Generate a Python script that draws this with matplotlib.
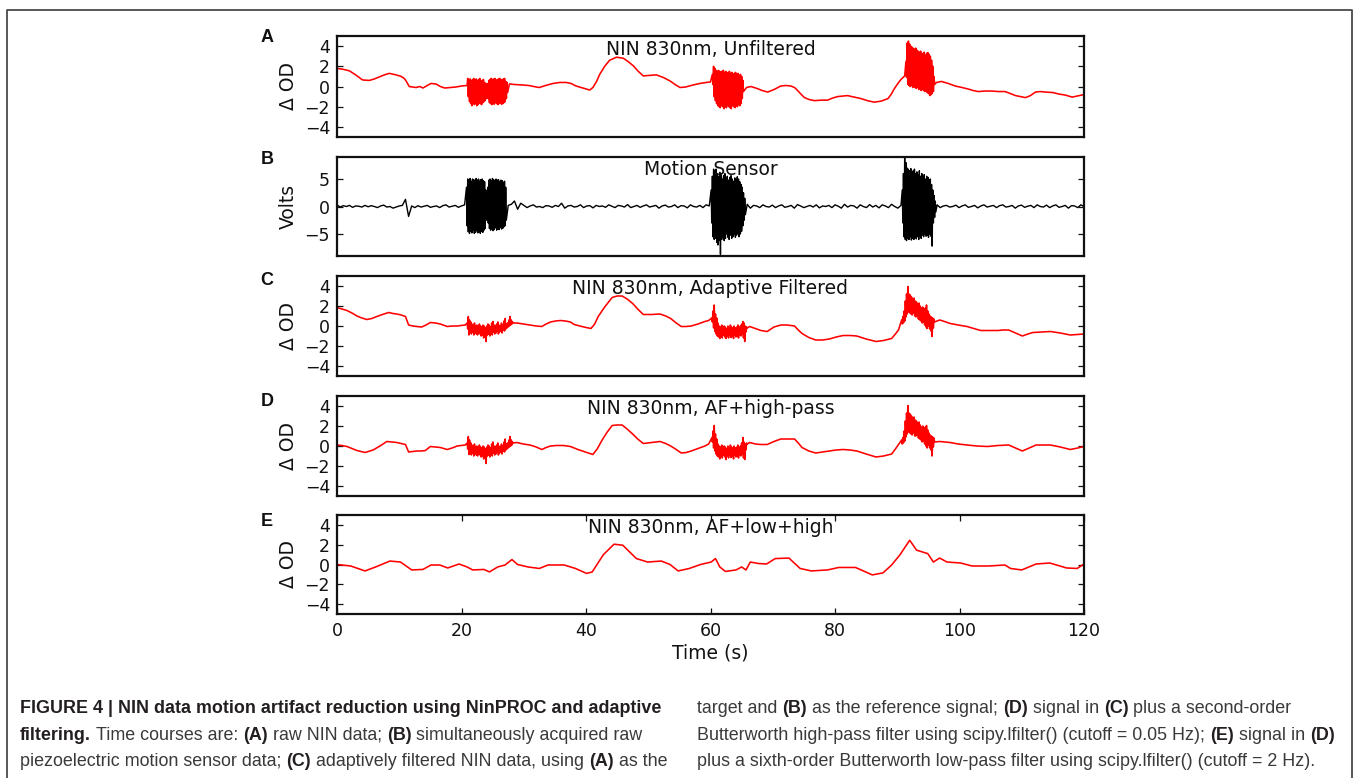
import numpy as np
import matplotlib
matplotlib.use('Agg')
import matplotlib.pyplot as plt
from matplotlib.lines import Line2D
from matplotlib import font_manager

# ---------------------------------------------------------------- data
x_ticks = [0, 20, 40, 60, 80, 100, 120]
od_ticks = [-4, -2, 0, 2, 4]
volt_ticks = [-5, 0, 5]

# Panel A : raw NIN 830nm
a_t1 = [0, 1, 2, 3, 4.1, 5.2, 6, 6.8, 7.6, 8.4, 9.5, 10.3, 10.8, 11.1, 11.6, 12.2, 12.7, 13.3,
        13.8, 14.5, 15.1, 15.9, 16.6, 17.3, 18.2, 19.1, 20.0, 20.9]
a_v1 = [1.8, 1.7, 1.55, 1.15, 0.65, 0.6, 0.75, 0.95, 1.15, 1.3, 1.15, 1.0, 0.8, 0.55, 0.0, -0.05,
        -0.1, 0.0, -0.15, 0.1, 0.3, 0.25, 0.0, -0.15, -0.1, -0.05, 0.05, 0.1]
a_b1_up = [0.8, 0.7, 0.75, 0.6, 0.7, 0.8, 0.65, 0.75, 0.6, 0.7, 0.8, 0.5, 0.6, 0.7, 0.4, 0.3]
a_b1_lo = [-1.0, -1.5, -1.7, -1.9, -1.6, -1.8, -1.7, -1.9, -1.8, -1.6, -1.7, -1.8, -1.6, -1.5, -1.4, -1.2]
a_b2_up = [0.3, 0.6, 0.7, 0.8, 0.7, 0.75, 0.8, 0.6, 0.7, 0.75, 0.8, 0.7, 0.6, 0.75, 0.8, 0.5, 0.4]
a_b2_lo = [-1.2, -1.6, -1.7, -1.8, -1.7, -1.75, -1.6, -1.7, -1.8, -1.7, -1.6, -1.75, -1.7, -1.6, -1.5, -1.2, -0.6]
a_t2 = [27.7, 28.5, 29.8, 30.8, 31.6, 32.5, 33.5, 34.7, 35.8, 36.8, 37.6, 38.4, 39.5, 40.6, 41.1,
        41.7, 42.2, 43.0, 43.8, 44.9, 46.0, 46.8, 47.6, 48.4, 49.2, 50.2, 51.3, 52.4, 53.5, 54.3,
        55.1, 56.0, 57.2, 58.3, 59.3, 60.0]
a_v2 = [0.25, 0.2, 0.15, 0.1, 0.0, -0.1, 0.1, 0.3, 0.4, 0.4, 0.3, 0.05, -0.15, -0.35, -0.1, 0.5,
        1.2, 2.0, 2.6, 2.9, 2.8, 2.45, 2.05, 1.5, 1.05, 1.1, 1.15, 0.9, 0.55, 0.2, -0.1, -0.05,
        0.15, 0.3, 0.4, 0.45]
a_b3_up = [1.2, 2.0, 1.8, 1.6, 1.5, 1.6, 1.5, 1.4, 1.5, 1.6, 1.4, 1.5, 1.3, 1.4, 1.5, 1.3, 1.4,
           1.2, 1.3, 1.4, 1.2, 1.3, 1.1, 1.2, 1.0, 0.6]
a_b3_lo = [0.2, -1.0, -1.4, -1.7, -1.9, -2.0, -2.1, -1.9, -2.0, -2.2, -2.0, -2.1, -1.9, -2.0, -2.1,
           -2.2, -1.9, -2.0, -2.1, -1.9, -2.0, -1.8, -1.9, -1.7, -1.2, -0.5]
a_t3 = [65.8, 66.5, 67.5, 68.3, 69.2, 70.2, 71.3, 72.1, 72.9, 73.5, 74.0, 74.6, 75.1, 75.9, 76.7,
        77.8, 78.8, 79.6, 80.4, 81.2, 82.0, 83.1, 84.2, 85.2, 86.3, 87.4, 88.5, 89.0, 89.5, 90.1,
        90.6, 91.2]
a_v3 = [-0.1, 0.0, -0.2, -0.4, -0.55, -0.3, 0.05, 0.1, 0.05, -0.1, -0.4, -0.8, -1.1, -1.3, -1.4,
        -1.35, -1.35, -1.15, -1.0, -0.95, -0.9, -1.05, -1.2, -1.4, -1.55, -1.45, -1.2, -0.8, -0.25,
        0.3, 0.7, 1.05]
a_b4_up = [2.5, 4.3, 4.5, 4.2, 4.0, 3.9, 3.8, 3.7, 3.8, 3.6, 3.5, 3.4, 3.5, 3.3, 3.2, 3.4, 3.1,
           3.3, 3.35, 3.2, 3.0, 2.6, 2.0, 1.0]
a_b4_lo = [0.9, 0.2, 0.1, 0.0, 0.1, -0.1, 0.0, -0.1, -0.2, -0.1, -0.3, -0.2, -0.4, -0.3, -0.4,
           -0.5, -0.4, -0.6, -0.7, -0.9, -0.8, -0.7, -0.5, 0.2]
a_t4 = [96.3, 97.1, 98.2, 99.3, 100.4, 101.4, 102.2, 103.0, 104.1, 105.2, 106.3, 107.3, 108.2,
        109.0, 109.8, 110.6, 111.4, 112.2, 113.0, 113.8, 115.0, 116.0, 117.0, 118.1, 119.2, 120.0]
a_v4 = [0.4, 0.5, 0.3, 0.05, -0.1, -0.25, -0.4, -0.5, -0.45, -0.45, -0.5, -0.5, -0.7, -0.9, -1.0,
        -1.1, -0.9, -0.55, -0.5, -0.55, -0.6, -0.75, -0.85, -1.05, -0.9, -0.8]

# Panel B : motion sensor (volts)
b_n1 = [0.3, -0.1, 0.15, 0.0, 0.2, -0.15, 0.1, 0.05, -0.1, 0.2, -0.05, 0.15, 0.0, -0.2, 0.1, 0.25,
        -0.1, 0.0, -0.3, -0.1, 0.1, 0.2, 1.3, -1.8, 0.1, -0.2, 0.15, -0.1, 0.05, 0.2, -0.15, 0.0,
        0.1, -0.2, 0.15, 0.3, -0.1, 0.05, 0.2, -0.15, 0.1, 0.3]
b_b1_up = [3.5, 5.0, 4.8, 5.1, 4.6, 5.0, 4.9, 4.7, 5.1, 4.8, 5.0, 4.6, 4.9, 5.0, 4.7, 4.5, 3.0]
b_b1_lo = [-3.5, -4.6, -4.9, -4.5, -4.8, -4.3, -4.9, -4.7, -4.4, -4.8, -4.6, -4.9, -4.5, -4.7,
           -4.3, -4.0, -2.5]
b_b2_up = [3.5, 4.8, 5.0, 4.7, 5.1, 4.9, 4.6, 5.0, 4.8, 4.9, 4.5, 4.8, 4.7, 4.4, 4.6, 3.5]
b_b2_lo = [-3.0, -4.0, -4.3, -4.1, -4.4, -4.2, -3.9, -4.3, -4.1, -4.2, -3.8, -4.1, -4.0, -3.7,
           -3.5, -2.5]
b_n2 = [0.2, 0.4, 1.0, -0.5, 0.6, 0.2, -0.2, 0.1, 0.3, -0.1, 0.0, -0.2, 0.15, 0.1, -0.15, 0.2,
        0.0, 0.6, -0.3, 0.1, 0.2, -0.1, 0.0, 0.3, -0.2, 0.1, 0.15, -0.25, 0.2, 0.0, 0.1, -0.15,
        0.3, 0.05, -0.2, 0.2, 0.1, -0.1, 0.35, -0.2, 0.0, 0.2, -0.15, 0.1, 0.3, -0.1, 0.05, 0.2,
        -0.3, 0.1, 0.25, -0.1, 0.0, 0.3, -0.2, 0.15, 0.1, -0.25, 0.3, 0.0, -0.1, 0.2, -0.2, 0.3, 0.1]
b_b3_up = [3.0, 5.5, 6.8, 6.5, 6.8, 6.0, 5.5, 6.2, 5.8, 5.0, 5.6, 6.0, 5.2, 5.5, 4.8, 5.3, 5.6,
           5.0, 4.6, 5.2, 4.8, 5.4, 5.0, 4.5, 4.0, 3.5, 2.5, 1.5]
b_b3_lo = [-3.0, -5.5, -6.0, -5.8, -6.5, -7.0, -6.2, -8.7, -6.0, -5.5, -6.2, -5.8, -5.0, -5.6,
           -6.0, -5.2, -5.8, -5.5, -5.0, -5.6, -5.2, -4.8, -5.5, -5.0, -4.5, -3.5, -2.5, -1.5]
b_n3 = [0.4, -0.3, 0.2, 0.1, -0.2, 0.3, 0.0, -0.1, 0.25, -0.2, 0.1, 0.3, -0.15, 0.0, 0.2, -0.3,
        0.35, 0.1, -0.2, 0.0, 0.2, -0.1, 0.3, -0.25, 0.1, 0.0, 0.2, -0.2, 0.3, 0.05, -0.3, 0.4,
        -0.1, 0.2, 0.1, -0.3, 0.3, 0.0, -0.2, 0.35, -0.1, 0.2, -0.25, 0.3, 0.1, -0.2, 0.4, 0.0,
        -0.3, 0.2]
b_b4_up = [3.0, 6.0, 9.0, 8.0, 7.0, 6.8, 6.5, 6.9, 6.2, 6.5, 6.8, 6.0, 6.3, 5.8, 6.5, 5.5, 6.0,
           5.3, 5.8, 5.0, 5.5, 5.3, 4.8, 5.0, 4.0, 3.0, 2.0, 1.0]
b_b4_lo = [-3.0, -5.5, -6.0, -6.2, -5.8, -6.0, -5.5, -6.1, -5.8, -6.0, -5.6, -5.9, -5.5, -6.0,
           -5.4, -5.8, -5.2, -5.5, -5.0, -5.4, -5.2, -5.6, -5.0, -5.4, -7.2, -3.0, -2.0, -1.0]
b_n4 = [0.3, -0.2, 0.1, 0.2, -0.1, 0.0, 0.25, -0.2, 0.1, 0.3, -0.15, 0.0, 0.2, -0.25, 0.1, 0.3,
        -0.1, 0.05, 0.2, -0.2, 0.15, 0.3, -0.1, 0.0, 0.2, -0.3, 0.1, 0.25, -0.15, 0.05, 0.2, -0.2,
        0.3, 0.0, -0.1, 0.25, -0.2, 0.1, 0.3, -0.15, 0.0, 0.2, -0.3, 0.15, 0.1, -0.2, 0.3, 0.0]

# Panel C : adaptive filtered
c_t1 = [0, 0.8, 1.6, 2.4, 3.2, 4.0, 4.8, 5.6, 6.4, 7.3, 8.3, 9.0, 9.6, 10.3, 11.0, 11.5, 12.2,
        12.8, 13.6, 14.3, 15.0, 15.8, 16.6, 17.7, 18.5, 19.3, 20.0, 20.6]
c_v1 = [1.85, 1.7, 1.55, 1.3, 1.0, 0.8, 0.65, 0.75, 0.95, 1.15, 1.35, 1.25, 1.2, 1.1, 0.95, 0.1,
        0.0, -0.05, -0.1, 0.1, 0.35, 0.3, 0.2, -0.05, 0.0, 0.0, 0.05, 0.1]
c_b1_up = [0.3, 0.95, 0.6, 0.4, 0.2, 0.1, 0.3, 0.0, 0.1, -0.1, 0.2, 0.0, -0.1, 0.1, 0.0, -0.2, 0.0,
           0.2, 0.1, -0.1, 0.3, 0.45, 0.1, 0.0, 0.2, 0.4, 0.1, 0.0, 0.3, 0.1, 0.5, 0.75, 0.2, 0.3,
           0.6, 0.95, 0.6, 0.4]
c_b1_lo = [-0.3, -0.9, -0.7, -0.8, -0.6, -0.9, -0.7, -0.8, -0.9, -0.7, -0.8, -1.0, -0.9, -1.2,
           -1.0, -1.55, -0.9, -0.8, -1.0, -0.7, -0.9, -0.6, -0.8, -0.7, -0.5, -0.8, -0.6, -0.5,
           -0.7, -0.4, -0.5, -0.3, -0.2, -0.1, 0.0, 0.1, 0.2, 0.3]
c_t2 = [28.9, 29.9, 31.0, 32.0, 32.9, 33.6, 34.3, 35.1, 35.9, 36.7, 37.5, 38.1, 39.0, 40.0, 40.8,
        41.4, 41.96, 43.0, 44.2, 45.0, 45.8, 46.6, 47.5, 48.3, 49.2, 50.5, 51.9, 52.8, 53.6, 54.5,
        55.3, 56.1, 56.9, 58.0, 59.1, 59.7]
c_v2 = [0.3, 0.2, 0.1, 0.0, -0.05, 0.2, 0.4, 0.5, 0.55, 0.5, 0.4, 0.15, 0.0, -0.15, -0.25, 0.2,
        0.95, 1.9, 2.85, 3.0, 3.0, 2.7, 2.25, 1.7, 1.15, 1.15, 1.2, 1.0, 0.75, 0.3, -0.05, -0.05,
        0.0, 0.2, 0.45, 0.55]
c_b2_up = [0.8, 1.5, 2.1, 1.2, 0.8, 0.3, 0.0, -0.1, 0.1, -0.2, 0.0, -0.1, -0.3, 0.0, -0.2, 0.1,
           -0.1, -0.3, 0.0, -0.2, -0.1, 0.1, -0.2, 0.0, 0.2, 0.45, 0.3, 0.0, -0.1]
c_b2_lo = [0.4, -0.2, -0.55, -0.8, -1.0, -1.1, -1.25, -1.0, -1.2, -0.9, -1.1, -1.25, -1.0, -1.2,
           -0.9, -1.15, -1.0, -1.25, -0.9, -1.1, -1.0, -1.2, -0.9, -1.0, -0.8, -1.2, -1.55, -0.6, -0.2]
c_t3 = [66.3, 67.2, 68.1, 69.1, 70.2, 71.3, 72.3, 73.5, 74.1, 74.7, 75.8, 76.9, 78.0, 79.1, 80.2,
        81.3, 82.4, 83.5, 85.0, 86.6, 87.8, 89.1, 89.7, 90.2]
c_v3 = [-0.05, -0.25, -0.45, -0.55, -0.1, 0.1, 0.1, 0.0, -0.4, -0.75, -1.15, -1.4, -1.4, -1.3,
        -1.1, -0.95, -0.95, -1.0, -1.3, -1.55, -1.45, -1.25, -0.8, -0.4]
c_b3_up = [0.6, 0.95, 1.5, 2.5, 3.2, 3.95, 3.2, 3.1, 2.9, 2.7, 2.8, 2.5, 2.4, 2.2, 2.3, 2.0, 1.8,
           1.9, 1.6, 1.8, 2.1, 1.5, 1.2, 1.0, 0.9, 0.8, 0.7]
c_b3_lo = [0.2, 0.3, 0.5, 0.9, 1.2, 1.4, 1.3, 1.2, 1.1, 1.3, 1.0, 0.9, 1.0, 0.7, 0.6, 0.5, 0.3,
           0.4, 0.1, -0.1, -0.25, 0.0, -0.3, -0.5, -1.05, -0.2, 0.4]
c_t4 = [96.8, 97.6, 98.5, 99.8, 101.2, 102.3, 103.4, 104.8, 106.2, 107.0, 107.9, 109.0, 110.1,
        111.0, 111.8, 113.2, 114.6, 116.2, 117.8, 119.0, 120.0]
c_v4 = [0.6, 0.45, 0.25, 0.1, -0.05, -0.25, -0.45, -0.45, -0.45, -0.4, -0.4, -0.7, -1.0, -0.8,
        -0.65, -0.6, -0.55, -0.7, -0.9, -0.85, -0.8]

# Panel D : AF + high-pass
d_t1 = [0, 0.8, 1.6, 2.4, 3.2, 4.5, 5.8, 6.9, 8.0, 8.8, 9.6, 10.3, 11.0, 11.5, 12.2, 12.8, 13.5,
        14.2, 15.0, 15.8, 16.6, 17.7, 18.5, 19.3, 20.0, 20.6]
d_v1 = [0.1, 0.05, -0.05, -0.25, -0.45, -0.65, -0.4, 0.0, 0.45, 0.4, 0.35, 0.25, 0.15, -0.6,
        -0.55, -0.5, -0.5, -0.45, -0.05, -0.1, -0.15, -0.35, -0.2, 0.0, 0.05, 0.1]
d_b1_up = [0.3, 0.95, 0.6, 0.3, 0.1, 0.0, 0.2, -0.1, 0.0, -0.2, 0.1, -0.1, -0.2, 0.0, -0.1, -0.3,
           -0.1, 0.1, 0.0, -0.2, 0.2, 0.4, 0.0, -0.1, 0.1, 0.3, 0.0, -0.1, 0.2, 0.0, 0.4, 0.7, 0.2,
           0.3, 0.6, 0.95, 0.6, 0.4]
d_b1_lo = [-0.3, -0.85, -0.8, -0.9, -0.7, -1.0, -0.8, -0.9, -1.0, -0.8, -0.9, -1.1, -1.0, -1.3,
           -1.1, -1.75, -1.0, -0.9, -1.1, -0.8, -1.0, -0.7, -0.9, -0.8, -0.6, -0.9, -0.7, -0.6,
           -0.8, -0.5, -0.6, -0.4, -0.3, -0.2, -0.1, 0.0, 0.1, 0.3]
d_t2 = [28.9, 29.9, 31.0, 32.0, 32.9, 33.6, 34.3, 35.3, 36.4, 37.5, 38.7, 39.9, 41.1, 41.8, 42.5,
        43.3, 44.2, 45.0, 45.8, 46.6, 47.5, 48.3, 49.2, 50.5, 51.9, 52.8, 53.6, 54.5, 55.3, 56.1,
        56.9, 58.0, 59.1, 59.7]
d_v2 = [0.35, 0.2, 0.1, -0.1, -0.35, -0.15, 0.0, 0.05, 0.05, -0.05, -0.35, -0.6, -0.85, -0.3, 0.5,
        1.3, 2.05, 2.1, 2.1, 1.7, 1.2, 0.7, 0.25, 0.35, 0.45, 0.25, 0.0, -0.35, -0.7, -0.65, -0.5,
        -0.25, 0.0, 0.2]
d_b2_up = [0.8, 1.5, 2.05, 1.2, 0.7, 0.2, 0.0, -0.1, 0.1, -0.2, 0.0, -0.1, -0.3, 0.0, -0.2, 0.1,
           -0.1, -0.3, 0.0, -0.2, -0.1, 0.1, -0.2, 0.0, 0.3, 0.85, 0.4, 0.2, 0.3]
d_b2_lo = [0.4, -0.2, -0.5, -0.8, -1.0, -1.1, -1.3, -1.0, -1.2, -0.9, -1.1, -1.35, -1.0, -1.2,
           -0.9, -1.15, -1.0, -1.3, -0.9, -1.1, -1.0, -1.2, -0.9, -1.0, -0.8, -1.2, -1.35, -0.4, 0.2]
d_t3 = [66.3, 67.2, 68.1, 69.1, 70.2, 71.3, 72.3, 73.5, 74.1, 74.7, 75.8, 76.9, 78.0, 79.1, 80.2,
        81.3, 82.4, 83.5, 85.0, 86.6, 87.8, 89.1, 89.7, 90.2]
d_v3 = [0.35, 0.2, 0.15, 0.15, 0.45, 0.7, 0.7, 0.7, 0.3, -0.15, -0.5, -0.7, -0.6, -0.5, -0.4,
        -0.35, -0.4, -0.5, -0.8, -1.1, -1.0, -0.8, -0.3, 0.15]
d_b3_up = [0.6, 0.85, 1.5, 2.5, 3.3, 4.05, 3.3, 3.2, 3.0, 2.8, 2.9, 2.6, 2.5, 2.3, 2.4, 2.1, 1.9,
           2.0, 1.7, 1.9, 2.05, 1.6, 1.3, 1.1, 1.0, 0.9, 0.8]
d_b3_lo = [0.2, 0.3, 0.5, 0.9, 1.2, 1.4, 1.3, 1.2, 1.1, 1.3, 1.0, 1.0, 1.1, 0.8, 0.7, 0.6, 0.4,
           0.5, 0.2, 0.0, -0.2, 0.1, -0.2, -0.4, -1.0, -0.1, 0.4]
d_t4 = [96.8, 97.6, 98.5, 99.8, 101.2, 102.8, 104.5, 106.2, 107.9, 109.0, 110.1, 111.2, 112.3,
        113.5, 114.6, 116.2, 117.8, 119.0, 120.0]
d_v4 = [0.45, 0.4, 0.35, 0.2, 0.1, 0.0, -0.05, 0.05, 0.1, -0.2, -0.5, -0.2, 0.1, 0.1, 0.1, -0.1,
        -0.35, -0.2, -0.05]

# Panel E : AF + low + high
e_t = [0, 2.2, 4.5, 6.2, 8.5, 10.2, 11.1, 12.0, 13.8, 15.1, 16.5, 17.8, 19.6, 20.9, 21.8, 23.6,
       24.5, 25.8, 27.0, 28.1, 29.0, 30.7, 32.5, 33.9, 36.5, 38.3, 40.1, 41.0, 42.8, 44.5, 45.9,
       48.1, 49.9, 52.1, 53.5, 54.8, 56.6, 58.4, 60.1, 60.8, 61.5, 62.4, 64.1, 65.0, 65.7, 66.4,
       67.7, 69.0, 70.4, 72.6, 74.4, 76.2, 78.8, 80.6, 83.3, 86.0, 87.7, 89.1, 90.4, 92.0, 93.1,
       94.9, 95.8, 96.8, 98.0, 100.2, 102.0, 104.7, 107.3, 108.2, 110.0, 112.3, 114.5, 117.2,
       118.9, 120.0]
e_v = [0.0, -0.15, -0.65, -0.25, 0.35, 0.25, -0.15, -0.55, -0.5, -0.05, -0.05, -0.35, 0.05, -0.25,
       -0.55, -0.5, -0.75, -0.25, -0.05, 0.5, 0.0, -0.25, -0.4, -0.05, -0.05, -0.4, -0.9, -0.75,
       1.0, 2.05, 1.95, 0.6, 0.25, 0.35, 0.0, -0.65, -0.4, 0.0, 0.25, 0.6, -0.25, -0.7, -0.55,
       -0.25, -0.55, 0.25, 0.1, 0.05, 0.6, 0.65, -0.4, -0.65, -0.55, -0.3, -0.3, -1.05, -0.85,
       -0.05, 0.95, 2.45, 1.45, 1.1, 0.25, 0.65, 0.25, 0.15, -0.15, -0.15, -0.05, -0.4, -0.55,
       0.05, 0.15, -0.35, -0.4, 0.05]

titles = ['NIN 830nm, Unfiltered', 'Motion Sensor', 'NIN 830nm, Adaptive Filtered',
          'NIN 830nm, AF+high-pass', 'NIN 830nm, AF+low+high']
panel_letters = ['A', 'B', 'C', 'D', 'E']
ylabels = ['\u0394 OD', 'Volts', '\u0394 OD', '\u0394 OD', '\u0394 OD']


def build(pieces):
    ts, vs = [], []
    for p in pieces:
        if p[0] == 'k':
            ts.extend(p[1]); vs.extend(p[2])
        elif p[0] == 'n':
            ts.extend(np.linspace(p[1], p[2], len(p[3]))); vs.extend(p[3])
        elif p[0] == 'b':
            t0, t1, up, lo = p[1:]
            n = min(len(up), len(lo))
            inter = []
            for u, l in zip(up[:n], lo[:n]):
                inter += [u, l]
            ts.extend(np.linspace(t0, t1, 2 * n)); vs.extend(inter)
    return np.array(ts, float), np.array(vs, float)


series = [
    build([('k', a_t1, a_v1), ('b', 21.0, 24.0, a_b1_up, a_b1_lo), ('b', 24.2, 27.4, a_b2_up, a_b2_lo),
           ('k', a_t2, a_v2), ('b', 60.3, 65.3, a_b3_up, a_b3_lo), ('k', a_t3, a_v3),
           ('b', 91.4, 96.0, a_b4_up, a_b4_lo), ('k', a_t4, a_v4)]),
    build([('n', 0.0, 20.5, b_n1), ('b', 20.8, 24.0, b_b1_up, b_b1_lo), ('b', 24.2, 27.2, b_b2_up, b_b2_lo),
           ('n', 27.5, 59.8, b_n2), ('b', 60.1, 65.6, b_b3_up, b_b3_lo), ('n', 65.9, 90.6, b_n3),
           ('b', 90.8, 96.2, b_b4_up, b_b4_lo), ('n', 96.4, 120.0, b_n4)]),
    build([('k', c_t1, c_v1), ('b', 20.9, 28.3, c_b1_up, c_b1_lo), ('k', c_t2, c_v2),
           ('b', 60.2, 65.9, c_b2_up, c_b2_lo), ('k', c_t3, c_v3), ('b', 90.7, 96.0, c_b3_up, c_b3_lo),
           ('k', c_t4, c_v4)]),
    build([('k', d_t1, d_v1), ('b', 20.9, 28.3, d_b1_up, d_b1_lo), ('k', d_t2, d_v2),
           ('b', 60.2, 65.9, d_b2_up, d_b2_lo), ('k', d_t3, d_v3), ('b', 90.7, 96.0, d_b3_up, d_b3_lo),
           ('k', d_t4, d_v4)]),
    build([('k', e_t, e_v)]),
]
colors = ['#ff0000', '#000000', '#ff0000', '#ff0000', '#ff0000']
lws = [1.15, 1.0, 1.15, 1.15, 1.15]

# ---------------------------------------------------------------- layout
W, H = 1356, 778
fig = plt.figure(figsize=(W / 100, H / 100), dpi=100)
fig.patch.set_facecolor('white')

axes_px = [(337, 36, 1084, 137), (337, 157, 1084, 256), (337, 276, 1084, 376),
           (337, 396, 1084, 496), (337, 515, 1084, 614)]
letter_y = [37, 159, 281, 401, 521]

for i, (l, t, r, b) in enumerate(axes_px):
    ax = fig.add_axes([l / W, 1 - b / H, (r - l) / W, (b - t) / H])
    tt, vv = series[i]
    ax.plot(tt, vv, color=colors[i], lw=lws[i], solid_joinstyle='round')
    ax.set_xlim(0, 120)
    if i == 1:
        ax.set_ylim(-9, 9)
        ax.set_yticks(volt_ticks)
    else:
        ax.set_ylim(-5, 5)
        ax.set_yticks(od_ticks)
    ax.set_yticklabels([('\u2212' + str(abs(v))) if v < 0 else str(v) for v in ax.get_yticks().astype(int)])
    for sp in ax.spines.values():
        sp.set_linewidth(1.6)
        sp.set_color('#111111')
    ax.tick_params(axis='y', which='both', direction='in', left=True, right=True,
                   length=4.5, width=0.9, labelsize=12.5, pad=5, colors='#111111')
    if i == 4:
        ax.set_xticks(x_ticks)
        ax.tick_params(axis='x', direction='in', top=True, bottom=True, length=4.5,
                       width=0.9, labelsize=12.5, pad=6, colors='#111111')
        ax.set_xlabel('Time (s)', fontsize=13.5, labelpad=2, color='#111111')
    else:
        ax.set_xticks([])
    ax.text(0.5, 0.815, titles[i], transform=ax.transAxes, ha='center', va='baseline',
            fontsize=13.5, color='#111111')
    fig.text(288 / W, 1 - ((t + b) / 2) / H, ylabels[i], rotation=90, ha='center',
             va='center', fontsize=13.5, color='#111111')
    fig.text(267 / W, 1 - letter_y[i] / H, panel_letters[i], ha='center', va='center',
             fontsize=13, fontweight='bold', family=['Liberation Sans', 'DejaVu Sans'],
             color='#111111')

# figure frame
fx = [7 / W, 7 / W, 1352 / W, 1352 / W]
fy = [-0.05, 1 - 9.5 / H, 1 - 9.5 / H, -0.05]
fig.add_artist(Line2D(fx, fy, transform=fig.transFigure, color='#4a4a4a', lw=1.3))

# ---------------------------------------------------------------- caption
avail = {f.name for f in font_manager.fontManager.ttflist}
cap_family = ['Liberation Sans Narrow'] if 'Liberation Sans Narrow' in avail else ['Liberation Sans']

caption_lines = [
    (20, 713, [("FIGURE 4 | NIN data motion artifact reduction using NinPROC and adaptive", True)]),
    (20, 740, [("filtering.", True), (" Time courses are: ", False), ("(A)", True),
               (" raw NIN data; ", False), ("(B)", True), (" simultaneously acquired raw", False)]),
    (20, 766, [("piezoelectric motion sensor data; ", False), ("(C)", True),
               (" adaptively filtered NIN data, using ", False), ("(A)", True), (" as the", False)]),
    (697, 713, [("target and ", False), ("(B)", True), (" as the reference signal; ", False),
                ("(D)", True), (" signal in ", False), ("(C)", True), (" plus a second-order", False)]),
    (697, 740, [("Butterworth high-pass filter using scipy.lfilter() (cutoff = 0.05 Hz); ", False),
                ("(E)", True), (" signal in ", False), ("(D)", True)]),
    (697, 766, [("plus a sixth-order Butterworth low-pass filter using scipy.lfilter() (cutoff = 2 Hz).", False)]),
]

renderer = fig.canvas.get_renderer()


def text_width(s, bold, size):
    tx = fig.text(0, 0, s, fontsize=size, fontweight='bold' if bold else 'normal', family=cap_family)
    w = tx.get_window_extent(renderer).width
    tx.remove()
    return w


# fit size so that first line spans ~640 px
cap_size = 11.0
w0 = text_width(caption_lines[0][2][0][0], True, cap_size)
cap_size = cap_size * 640.0 / w0

sp_w = {b: text_width('a a', b, cap_size) - text_width('aa', b, cap_size) for b in (True, False)}

for x0, yb, segs in caption_lines:
    x = x0
    for s, bold in segs:
        lead = len(s) - len(s.lstrip(' '))
        trail = len(s) - len(s.rstrip(' '))
        x += lead * sp_w[bold]
        core = s.strip(' ')
        tx = fig.text(x / W, 1 - yb / H, core, fontsize=cap_size,
                      fontweight='bold' if bold else 'normal', family=cap_family,
                      color='#231f20' if bold else '#3a3a3a', ha='left', va='baseline')
        x += tx.get_window_extent(renderer).width + trail * sp_w[bold]

fig.savefig('out.png', dpi=100)
